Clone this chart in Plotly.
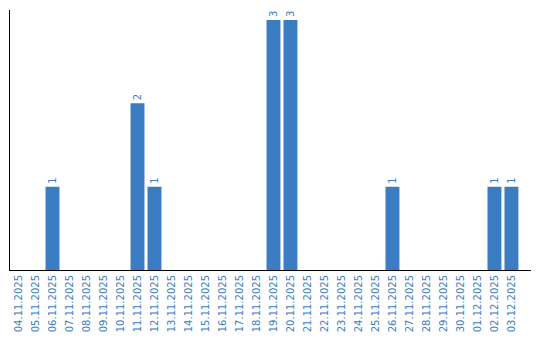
import plotly.graph_objects as go

dates = ["04.11.2025", "05.11.2025", "06.11.2025", "07.11.2025", "08.11.2025",
         "09.11.2025", "10.11.2025", "11.11.2025", "12.11.2025", "13.11.2025",
         "14.11.2025", "15.11.2025", "16.11.2025", "17.11.2025", "18.11.2025",
         "19.11.2025", "20.11.2025", "21.11.2025", "22.11.2025", "23.11.2025",
         "24.11.2025", "25.11.2025", "26.11.2025", "27.11.2025", "28.11.2025",
         "29.11.2025", "30.11.2025", "01.12.2025", "02.12.2025", "03.12.2025"]
counts = [0, 0, 1, 0, 0, 0, 0, 2, 1, 0,
          0, 0, 0, 0, 0, 3, 3, 0, 0, 0,
          0, 0, 1, 0, 0, 0, 0, 0, 1, 1]

blue = "#3a7dc2"
xs = list(range(len(dates)))
labels = [str(c) if c > 0 else "" for c in counts]

fig = go.Figure(go.Bar(
    x=xs, y=counts, width=0.82,
    marker=dict(color=blue, line=dict(width=0)),
    text=labels, textposition="outside", textangle=-90,
    textfont=dict(family="DejaVu Sans", size=10, color=blue),
    cliponaxis=False,
))
fig.update_layout(
    width=540, height=340,
    margin=dict(l=10, r=9, t=10, b=70),
    paper_bgcolor="white", plot_bgcolor="white",
    showlegend=False,
    font=dict(family="DejaVu Sans", size=10, color=blue),
)
fig.update_xaxes(
    tickmode="array", tickvals=xs, ticktext=dates, tickangle=-90,
    range=[-0.5, 30.15], showgrid=False, zeroline=False,
    showline=True, linecolor="black", linewidth=1, ticks="",
    tickfont=dict(family="DejaVu Sans", size=10, color=blue),
)
fig.update_yaxes(
    range=[0, 3.12], showgrid=False, zeroline=False, showticklabels=False,
    showline=True, linecolor="black", linewidth=1, ticks="",
)
fig.write_html("out.html")
